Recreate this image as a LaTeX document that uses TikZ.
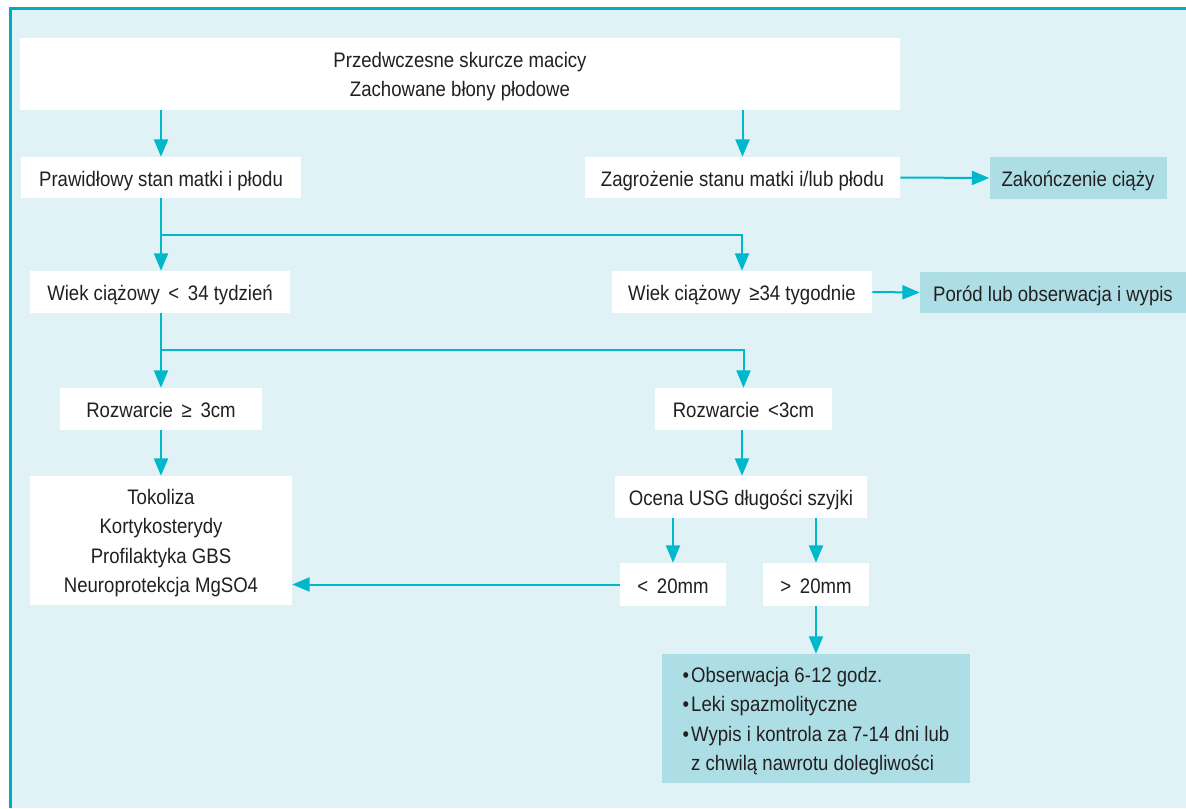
\documentclass[tikz,border=0pt]{standalone}
\usepackage{fontspec}
\setmainfont{Liberation Sans}[FakeStretch=0.885]
\usetikzlibrary{arrows.meta}
\definecolor{flowline}{RGB}{0,184,204}
\definecolor{framec}{RGB}{0,172,192}
\definecolor{bgc}{RGB}{225,242,246}
\definecolor{boxc}{RGB}{173,222,229}
\definecolor{inkc}{RGB}{35,31,32}
% struts that fix the extent of multi-line node texts
\newcommand{\toprl}{\rule{0pt}{17pt}}
\newcommand{\botrl}{\rule[-5pt]{0pt}{5pt}}
\begin{document}
\begin{tikzpicture}[x=0.75pt,y=-0.75pt,
  every node/.style={font=\fontsize{15.75}{21.9}\selectfont, text=inkc, inner sep=0pt},
  sz/.style 2 args={minimum width=#1*0.75pt, minimum height=#2*0.75pt},
  oneline/.style={text height=16.5pt, text depth=3.5pt},
  whitebox/.style={fill=white},
  bluebox/.style={fill=boxc},
  arr/.style={draw=flowline, line width=1.5pt, -{Triangle[length=13pt,width=10.5pt]}}]
\useasboundingbox (0,0) rectangle (1186,808);
% panel and its frame
\fill[bgc] (8.5,7) rectangle (1186,808);
\draw[framec, line width=2.25pt] (10,808) -- (10,8) -- (1186,8);

% boxes
\node[whitebox, sz={880}{72}, align=center] (top) at (460,74)
  {\toprl Przedwczesne skurcze macicy\\Zachowane błony płodowe\botrl};
\node[whitebox, oneline, sz={280}{41}] (prawid) at (161,177.5) {Prawidłowy stan matki i płodu};
\node[whitebox, oneline, sz={315}{41}] (zagroz) at (742.5,177.5) {Zagrożenie stanu matki i/lub płodu};
\node[bluebox, oneline, sz={177}{42}] (zakon) at (1078,178) {Zakończenie ciąży};
\node[whitebox, oneline, sz={260}{42}] (wiek1) at (160,292) {Wiek ciążowy \,<\, 34 tydzień};
\node[whitebox, oneline, sz={260}{42}] (wiek2) at (742,292) {Wiek ciążowy \,≥34 tygodnie};
\node[bluebox, oneline, sz={266}{41}] (porod) at (1053,292.5) {Poród lub obserwacja i wypis};
\node[whitebox, oneline, sz={202}{42}] (rozw1) at (161,409) {Rozwarcie \,≥\, 3cm};
\node[whitebox, oneline, sz={177}{42}] (rozw2) at (743.5,409) {Rozwarcie \,<3cm};
\node[whitebox, sz={262}{129}, align=center] (tok) at (161,540.5)
  {\toprl Tokoliza\\Kortykosterydy\\Profilaktyka GBS\\Neuroprotekcja MgSO4\botrl};
\node[whitebox, oneline, sz={252}{42}] (ocena) at (741,497) {Ocena USG długości szyjki};
\node[whitebox, oneline, sz={106}{43}] (lt20) at (673,584.5) {< \,20mm};
\node[whitebox, oneline, sz={106}{43}] (gt20) at (816,584.5) {> \,20mm};
\node[bluebox, sz={308}{129}, align=left] (obs) at (816,718.5)
  {\toprl\textbullet\hspace{1.5pt}Obserwacja 6-12 godz.\\
   \textbullet\hspace{1.5pt}Leki spazmolityczne\\
   \textbullet\hspace{1.5pt}Wypis i kontrola za 7-14 dni lub\\
   \phantom{\textbullet}\hspace{1.5pt}z chwilą nawrotu dolegliwości\botrl};

% branch points
\coordinate (j1) at (161,235);
\coordinate (j2) at (161,350);

% connectors
\draw[arr] (top.south -| prawid.north) -- (prawid.north);
\draw[arr] (top.south -| zagroz.north) -- (zagroz.north);
\draw[arr] (zagroz.east) -- (zakon.west);
\draw[arr] (prawid.south) -- (wiek1.north -| prawid.south);
\draw[arr] (j1) -| (wiek2.north);
\draw[arr] (wiek2.east) -- (porod.west);
\draw[arr] (wiek1.south -| rozw1.north) -- (rozw1.north);
\draw[arr] (j2) -| (rozw2.north);
\draw[arr] (rozw1.south) -- (tok.north);
\draw[arr] (rozw2.south -| 742,0) -- (ocena.north -| 742,0);
\draw[arr] (ocena.south -| lt20.north) -- (lt20.north);
\draw[arr] (ocena.south -| gt20.north) -- (gt20.north);
\draw[arr] (lt20.west) -- (lt20.west -| tok.east);
\draw[arr] (gt20.south) -- (obs.north);
\end{tikzpicture}
\end{document}
